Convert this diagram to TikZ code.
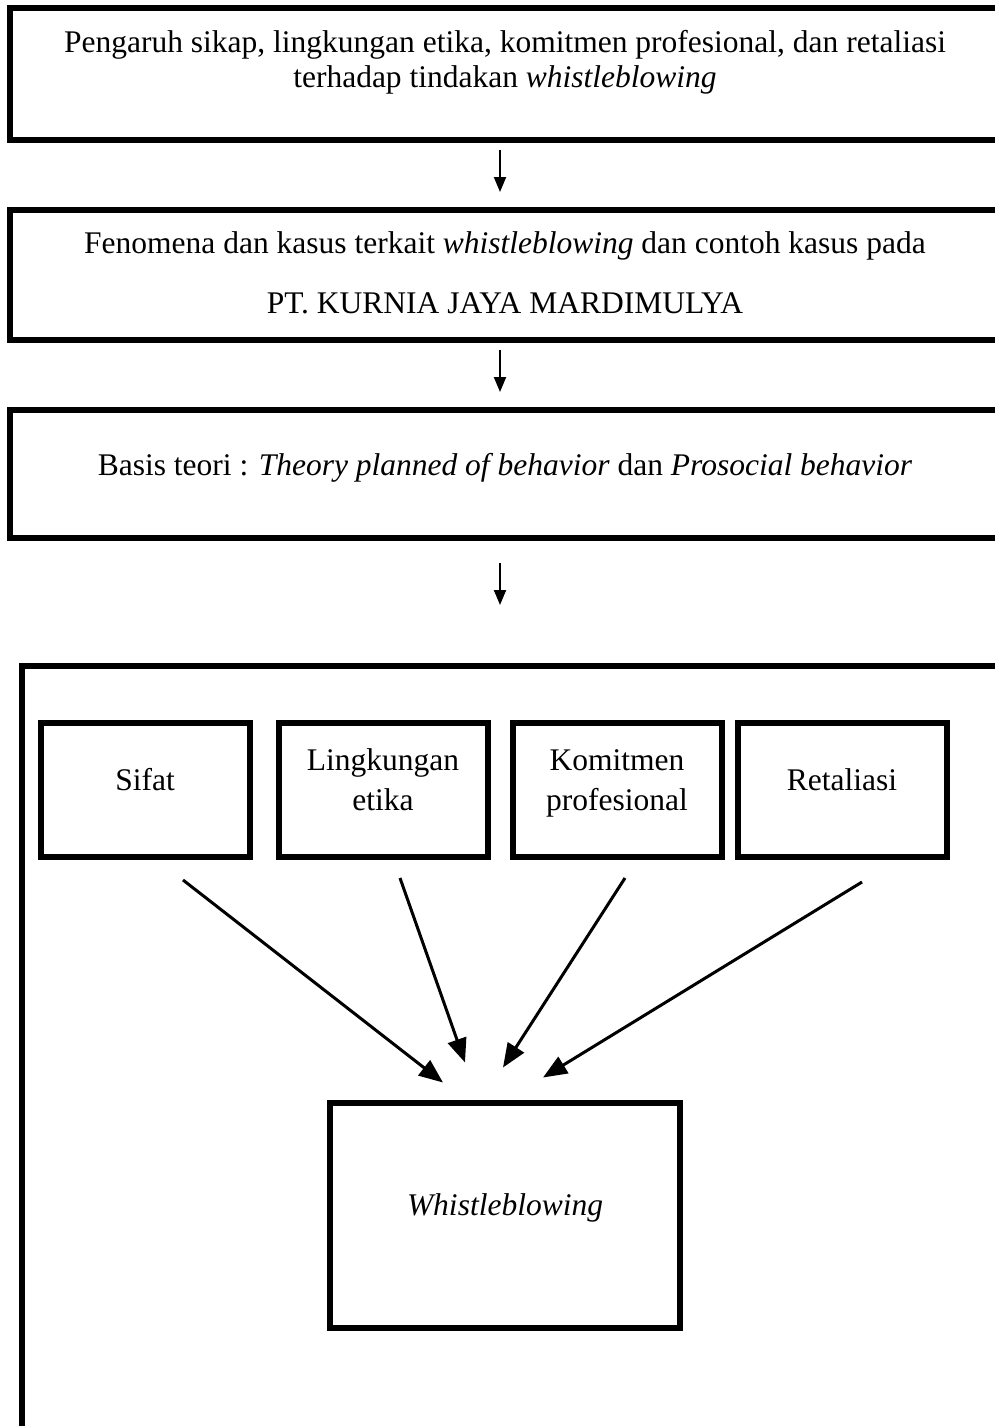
\documentclass[tikz,border=0pt]{standalone}
\usepackage{fontspec}
\setmainfont{Liberation Serif}
\usetikzlibrary{arrows.meta}

\tikzset{
  kotak/.style={draw, line width=6pt, inner sep=0pt, align=center,
    font=\fontsize{31.5pt}{35pt}\selectfont},
  panah/.style={-{Triangle[length=15pt,width=12pt]}, line width=2pt},
  panahmiring/.style={-{Triangle[length=24pt,width=19pt]}, line width=3pt}
}

\begin{document}
\begin{tikzpicture}[x=1pt,y=-1pt]
  \useasboundingbox (0,0) rectangle (995,1426);
  \clip (0,0) rectangle (995,1426);

  % alur atas
  \node[kotak, minimum width=990pt, minimum height=132pt, text height=48pt, text depth=20pt] (pengaruh) at (505,74)
    {Pengaruh sikap, lingkungan etika, komitmen profesional, dan retaliasi\\terhadap tindakan \textit{whistleblowing}};
  \node[kotak, minimum width=990pt, minimum height=130pt, text height=84pt, text depth=8pt] (fenomena) at (505,275)
    {Fenomena dan kasus terkait \textit{whistleblowing} dan contoh kasus pada\\[25pt]PT. KURNIA JAYA MARDIMULYA};
  \node[kotak, minimum width=990pt, minimum height=128pt, text height=22pt, text depth=20pt] (basis) at (505,474)
    {Basis teori : \textit{Theory planned of behavior} dan \textit{Prosocial behavior}};

  \draw[panah, shorten <=7pt, shorten >=15pt] ([xshift=-5pt]pengaruh.south) -- ([xshift=-5pt]fenomena.north);
  \draw[panah, shorten <=7pt, shorten >=15pt] ([xshift=-5pt]fenomena.south) -- ([xshift=-5pt]basis.north);

  % kerangka pemikiran
  \node[kotak, minimum width=1000pt, minimum height=800pt, anchor=north west] (kerangka) at (19,663) {};
  \draw[panah, shorten <=22pt, shorten >=58pt] ([xshift=-5pt]basis.south) -- ([xshift=-5pt]basis.south |- kerangka.north);

  \foreach \nama/\x/\tinggi/\teks in {sifat/145/20/Sifat, lingkungan/383/60/{Lingkungan\\[5pt]etika},
                                      komitmen/617/60/{Komitmen\\[5pt]profesional}, retaliasi/842/20/Retaliasi}
  {
    \node[kotak, minimum width=209pt, minimum height=134pt, text height=\tinggi pt, text depth=20pt] (\nama) at (\x,790) {\teks};
  }

  \node[kotak, minimum width=350pt, minimum height=225pt, text height=20pt, text depth=20pt] (whistle) at (505,1215)
    {\textit{Whistleblowing}};

  \draw[panahmiring] ([xshift=38pt,yshift=-20pt]sifat.south) -- ([xshift=-62pt,yshift=17pt]whistle.north);
  \draw[panahmiring] ([xshift=17pt,yshift=-18pt]lingkungan.south) -- ([xshift=-40pt,yshift=37pt]whistle.north);
  \draw[panahmiring] ([xshift=8pt,yshift=-18pt]komitmen.south) -- ([xshift=-2pt,yshift=32pt]whistle.north);
  \draw[panahmiring] ([xshift=20pt,yshift=-22pt]retaliasi.south) -- ([xshift=38pt,yshift=22pt]whistle.north);
\end{tikzpicture}
\end{document}
